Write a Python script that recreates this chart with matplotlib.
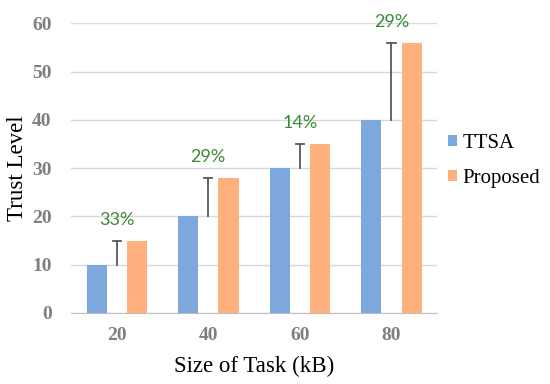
import numpy as np
import matplotlib.pyplot as plt

plt.rcParams['font.family'] = ['Liberation Serif', 'DejaVu Serif']

sizes = ['20', '40', '60', '80']
ttsa = [10, 20, 30, 40]
proposed = [15, 28, 35, 56]
gains = ['33%', '29%', '14%', '29%']

blue = '#7ea7dd'
orange = '#ffb07c'
green = '#3a8a35'

fig = plt.figure(figsize=(5.5, 3.84), dpi=100)
ax = fig.add_axes([0.129, 0.185, 0.666, 0.754])

x = np.arange(len(sizes))
w = 0.22
ax.bar(x - w, ttsa, w, color=blue, label='TTSA', zorder=3)
ax.bar(x + w, proposed, w, color=orange, label='Proposed', zorder=3)

# difference markers between the two bars
for xi, lo, hi, g in zip(x, ttsa, proposed, gains):
    ax.plot([xi, xi], [lo, hi], color='#595959', lw=1.3, zorder=4)
    ax.plot([xi - 0.045, xi + 0.045], [hi, hi], color='#595959', lw=1.3, zorder=4)
    ax.annotate(g, (xi, hi), xytext=(0, 15), textcoords='offset points',
                ha='center', va='center', color=green, fontsize=13, family='Lato')

ax.set_xlim(-0.5, 3.5)
ax.set_ylim(0, 60)
ax.set_yticks(range(0, 61, 10))
ax.set_xticks(x)
ax.set_xticklabels(sizes)
ax.yaxis.grid(True, color='#d9d9d9', lw=1, zorder=0)
ax.set_axisbelow(True)
for s in ['top', 'right', 'left']:
    ax.spines[s].set_visible(False)
ax.spines['bottom'].set_color('#bfbfbf')
ax.tick_params(length=0, labelsize=14, labelcolor='#7f7f7f')
ax.tick_params(axis='x', pad=10)
ax.tick_params(axis='y', pad=14)
for lab in ax.get_xticklabels() + ax.get_yticklabels():
    lab.set_fontweight('bold')

ax.set_xlabel('Size of Task (kB)', fontsize=16.5, labelpad=9)
ax.set_ylabel('Trust Level', fontsize=16.5, labelpad=3)

leg = ax.legend(loc='center left', bbox_to_anchor=(1.0, 0.525), frameon=False,
                prop={'family': 'Liberation Serif', 'size': 15},
                handlelength=0.45, handleheight=0.45,
                handletextpad=0.25, labelspacing=0.75, borderpad=0,
                borderaxespad=0.5)

fig.savefig('out.png', dpi=100)
